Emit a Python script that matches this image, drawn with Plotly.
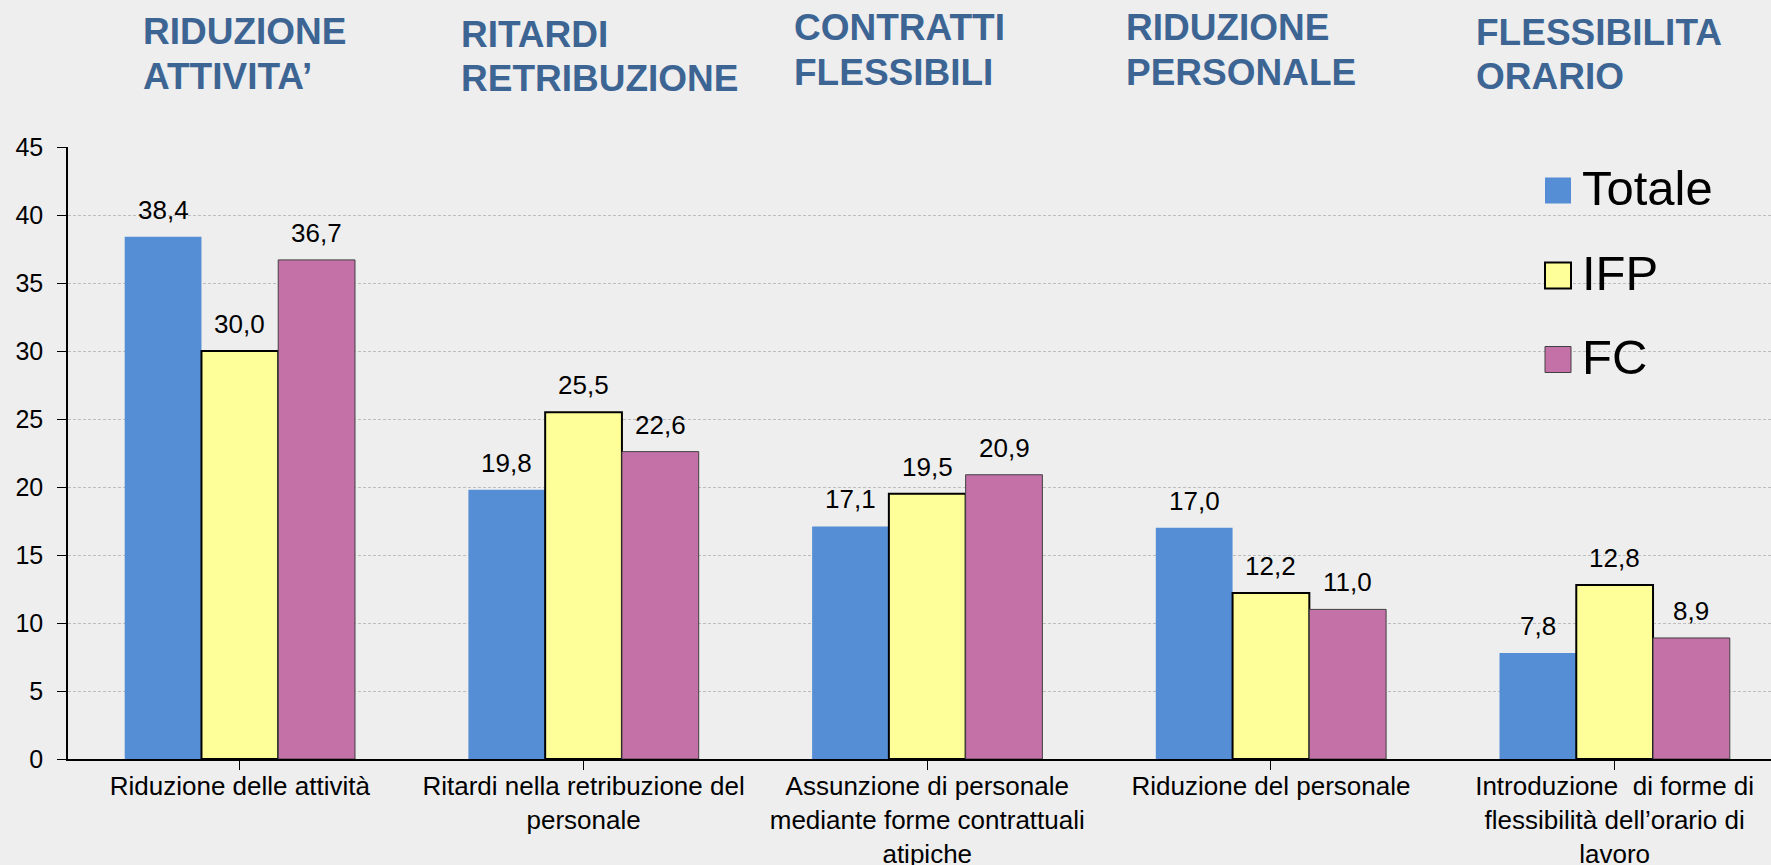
import plotly.graph_objects as go

# data
categories = [
    "Riduzione delle attività",
    "Ritardi nella retribuzione del<br>personale",
    "Assunzione di personale<br>mediante forme contrattuali<br>atipiche",
    "Riduzione del personale",
    "Introduzione  di forme di<br>flessibilità dell’orario di<br>lavoro",
]
series_names = ["Totale", "IFP", "FC"]
totale = [38.4, 19.8, 17.1, 17.0, 7.8]
ifp = [30.0, 25.5, 19.5, 12.2, 12.8]
fc = [36.7, 22.6, 20.9, 11.0, 8.9]
y_ticks = [0, 5, 10, 15, 20, 25, 30, 35, 40, 45]
top_titles = [
    ("RIDUZIONE", "ATTIVITA’"),
    ("RITARDI", "RETRIBUZIONE"),
    ("CONTRATTI", "FLESSIBILI"),
    ("RIDUZIONE", "PERSONALE"),
    ("FLESSIBILITA", "ORARIO"),
]

# styling
W, H = 1771, 865
M_L, M_R, M_T, M_B = 68, 0, 147, 106
BG = "#EEEEEE"
FONT = "Liberation Sans, Arial"
TITLE_COL = "#3D6594"
colors = ["#558ED5", "#FFFF99", "#C471A7"]
outlines = [dict(color="#558ED5", width=0), dict(color="#000000", width=2),
            dict(color="#404040", width=1)]
BARGAP = 0.33
CAT_W = 343.7  # pixel width of one category

plot_w = W - M_L - M_R
plot_h = H - M_T - M_B


def px_x(px):
    return (px - M_L) / plot_w


def px_y(py):
    return (H - M_B - py) / plot_h


fig = go.Figure()
all_values = [totale, ifp, fc]
for name, vals, col, ol in zip(series_names, all_values, colors, outlines):
    fig.add_trace(go.Bar(
        name=name,
        x=list(range(len(categories))),
        y=vals,
        marker=dict(color=col, line=ol),
        showlegend=False,
        hoverinfo="y",
    ))

annotations = []
bar_w = (1 - BARGAP) / 3
for j, vals in enumerate(all_values):
    for i, v in enumerate(vals):
        annotations.append(dict(
            x=i + (j - 1) * bar_w, y=v, xref="x", yref="y",
            text=f"{v:.1f}".replace(".", ","),
            showarrow=False, yanchor="bottom", yshift=10,
            font=dict(family=FONT, size=26, color="#000000"),
        ))

# headings over each group (x left edge, cap centre of the two lines, in px)
title_pos = [(141, 31, 76.5), (459, 34, 79), (792, 27, 72), (1124, 27, 72), (1474, 32, 77)]
for (l1, l2), (x, y1, y2) in zip(top_titles, title_pos):
    for txt, yy in ((l1, y1), (l2, y2)):
        annotations.append(dict(
            x=px_x(x), y=px_y(yy), xref="paper", yref="paper",
            text=f"<b>{txt}</b>", showarrow=False,
            xanchor="left", yanchor="middle",
            font=dict(family=FONT, size=37, color=TITLE_COL),
        ))

# legend drawn by hand so the swatches can be large
shapes = []
leg_y = [190.5, 275.5, 359.5]
for name, col, ol, yy in zip(series_names, colors, outlines, leg_y):
    shapes.append(dict(
        type="rect", xref="paper", yref="paper",
        x0=px_x(1545), x1=px_x(1571), y0=px_y(yy + 13), y1=px_y(yy - 13),
        fillcolor=col, line=dict(color=ol["color"], width=ol["width"]),
    ))
    annotations.append(dict(
        x=px_x(1580), y=px_y(yy - 3), xref="paper", yref="paper",
        text=name, showarrow=False, xanchor="left", yanchor="middle",
        font=dict(family=FONT, size=49, color="#000000"),
    ))

n = len(categories)
x_hi = -0.5 + plot_w / CAT_W

fig.update_layout(
    width=W, height=H,
    margin=dict(l=M_L, r=M_R, t=M_T, b=M_B),
    paper_bgcolor=BG, plot_bgcolor=BG,
    barmode="group", bargap=BARGAP, bargroupgap=0,
    annotations=annotations, shapes=shapes,
    showlegend=False,
)
fig.update_xaxes(
    range=[-0.5, x_hi], tickmode="array",
    tickvals=list(range(n)), ticktext=categories,
    showline=True, linecolor="#000000", linewidth=1.5,
    ticks="outside", ticklen=9, tickcolor="#000000", tickwidth=1,
    tickson="boundaries", ticklabelstandoff=-6,
    showgrid=False, zeroline=False, automargin=False,
    tickfont=dict(family=FONT, size=26, color="#000000"),
)
fig.update_yaxes(
    range=[0, 45], tickvals=y_ticks,
    showline=True, linecolor="#000000", linewidth=1.5,
    ticks="outside", ticklen=9, tickcolor="#000000", tickwidth=1,
    ticklabelstandoff=9,
    showgrid=True, gridcolor="#BDBDBD", gridwidth=1, griddash="3px,2px",
    zeroline=False, automargin=False,
    tickfont=dict(family=FONT, size=25, color="#000000"),
)

# the page's default 8px body margin would push the figure off the window
fig.write_html(
    "out.html",
    config={"displayModeBar": False},
    post_script="document.body.style.margin='0';document.body.style.background='#EEEEEE';",
)
